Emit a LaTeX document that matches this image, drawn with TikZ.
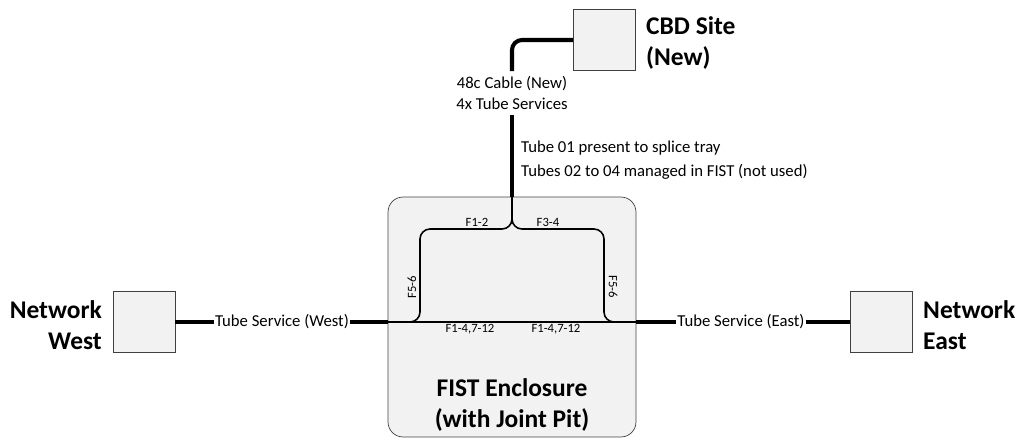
\documentclass[tikz,border=0pt]{standalone}
\usepackage{fontspec}
\setmainfont{Carlito}
\usetikzlibrary{positioning}
\definecolor{boxGray}{HTML}{F2F2F2}
\definecolor{edgeGray}{HTML}{404040}

\begin{document}
\begin{tikzpicture}[
  x=0.02cm, y=-0.02cm,
  site/.style={draw=edgeGray, fill=boxGray, minimum width=1.24cm, minimum height=1.22cm, inner sep=0pt},
  encl/.style={draw=edgeGray, fill=boxGray, rounded corners=0.3cm, minimum width=4.96cm, minimum height=4.8cm, inner sep=0pt},
  big/.style={font=\bfseries\fontsize{14.5}{18}\selectfont},
  lbl/.style={font=\fontsize{9.5}{11.5}\selectfont, inner sep=0.5pt},
  fib/.style={font=\fontsize{7.2}{9}\selectfont, inner sep=1pt},
  cable/.style={line width=2.3pt},
  fibre/.style={line width=0.9pt, rounded corners=0.2cm}
]
  \useasboundingbox (0,0) rectangle (1019,443);

  \node[encl] (fist) at (512,317) {};
  \node[site] (cbd) at (604.5,40) {};
  \node[site] (west) at (144,322) {};
  \node[site] (east) at (881,322) {};

  \node[big, align=left, anchor=west] (cbdtxt) at (640,43) {CBD Site\\(New)};
  \node[big, align=right, anchor=east] (westtxt) at (108,325) {Network\\West};
  \node[big, align=left, anchor=west] (easttxt) at (917,325) {Network\\East};
  \node[big, align=center] (fisttxt) at (512,405) {FIST Enclosure\\(with Joint Pit)};

  \node[lbl] (westlbl) at (282,322) {Tube Service (West)};
  \node[lbl] (eastlbl) at (741,322) {Tube Service (East)};
  \node[lbl, align=center, inner sep=3pt] (cablelbl) at (512,93) {48c Cable (New)\\4x Tube Services};
  \node[lbl, align=left, anchor=west, font=\fontsize{9.5}{13.6}\selectfont] (tubelbl) at (520,160)
    {Tube 01 present to splice tray\\Tubes 02 to 04 managed in FIST (not used)};

  \coordinate (jw) at (fist.west |- westlbl);
  \coordinate (je) at (fist.east |- eastlbl);
  \coordinate (jn) at (cablelbl.south |- fist.north);
  \coordinate (split) at (512,229);
  \coordinate (bendl) at (420,229);
  \coordinate (bendr) at (604,229);

  % cables
  \draw[cable, rounded corners=0.2cm] (cablelbl.north) |- (cbd.west);
  \draw[cable] (cablelbl.south) -- (jn);
  \draw[cable] (west.east) -- (westlbl.west);
  \draw[cable] (westlbl.east) -- (jw);
  \draw[cable] (je) -- (eastlbl.west);
  \draw[cable] (eastlbl.east) -- (east.west);

  % fibres inside the enclosure
  \draw[fibre] (jw) -- (je);
  \draw[fibre] (jn) -- (split) -| (bendl |- jw) -- (jw);
  \draw[fibre] (jn) -- (split) -| (bendr |- je) -- (je);

  \node[fib, above] (f12) at (477,229) {F1-2};
  \node[fib, above] (f34) at (548,229) {F3-4};
  \node[fib, rotate=90] (f56w) at (412,287) {F5-6};
  \node[fib, rotate=-90] (f56e) at (613,287) {F5-6};
  \node[fib, below] (fw) at (470,322) {F1-4,7-12};
  \node[fib, below] (fe) at (556,322) {F1-4,7-12};
\end{tikzpicture}
\end{document}
